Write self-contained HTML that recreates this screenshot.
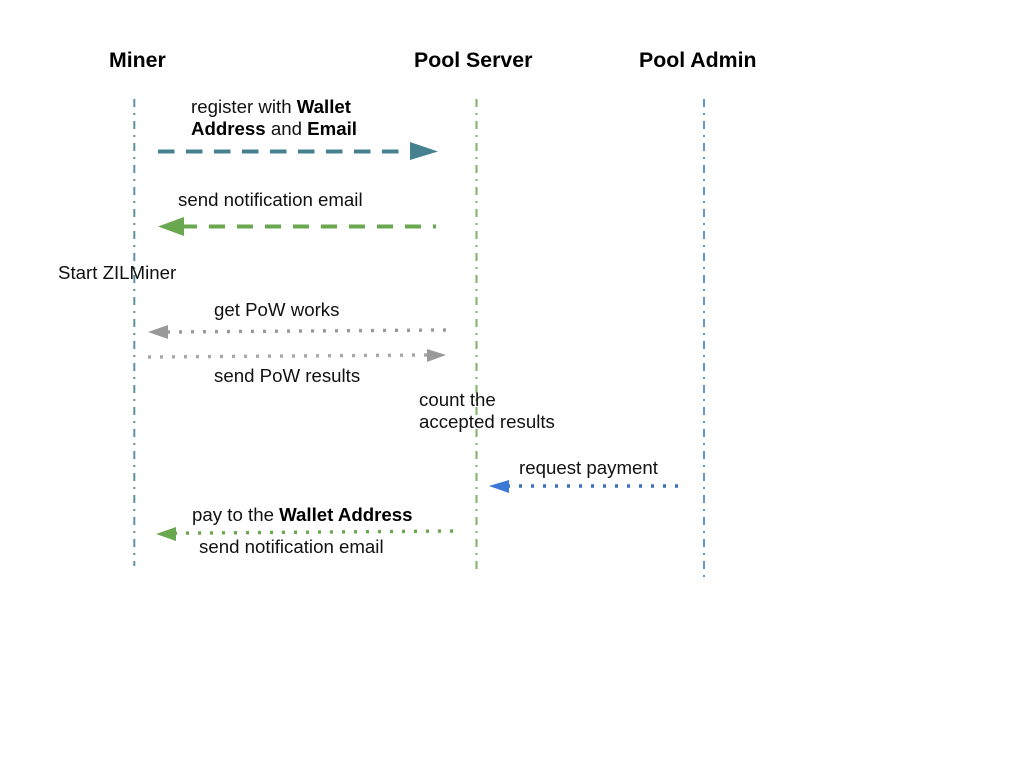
<!DOCTYPE html>
<html>
<head>
<meta charset="utf-8">
<style>
html,body{margin:0;padding:0;background:#fff;width:1024px;height:768px;overflow:hidden}
svg{display:block}
text{font-family:"Liberation Sans",Arial,sans-serif;font-size:18.67px;fill:#111}
.h{font-size:21.3px;font-weight:bold;fill:#000}
.b{font-weight:bold;fill:#000}
</style>
</head>
<body>
<svg width="1024" height="768" viewBox="0 0 1024 768" xmlns="http://www.w3.org/2000/svg">
<rect width="1024" height="768" fill="#fff"/>

<text class="h" x="109" y="67">Miner</text>
<text class="h" x="414" y="67">Pool Server</text>
<text class="h" x="639" y="67">Pool Admin</text>

<line x1="134.3" y1="99" x2="134.3" y2="566" stroke="#5f929e" stroke-width="2" stroke-dasharray="8 6 2 6"/>
<line x1="476.5" y1="99" x2="476.5" y2="570" stroke="#7fb068" stroke-width="2" stroke-dasharray="8 6 2 6"/>
<line x1="704" y1="99" x2="704" y2="578" stroke="#5b96cc" stroke-width="2" stroke-dasharray="8 6 2 6"/>

<text x="191" y="113">register with <tspan class="b">Wallet</tspan></text>
<text x="191" y="135"><tspan class="b">Address</tspan> and <tspan class="b">Email</tspan></text>
<line x1="158" y1="151.5" x2="410" y2="151.5" stroke="#45818e" stroke-width="4" stroke-dasharray="16.5 11.5"/>
<polygon points="410,142 438,151.5 410,160" fill="#45818e"/>

<text x="178" y="206">send notification email</text>
<line x1="183" y1="226.5" x2="436" y2="226.5" stroke="#6aa84f" stroke-width="4" stroke-dasharray="16 12" stroke-dashoffset="2"/>
<polygon points="158,226.5 184,217 184,236" fill="#6aa84f"/>

<text x="58" y="279">Start ZILMiner</text>

<text x="214" y="316">get PoW works</text>
<line x1="446" y1="330" x2="166" y2="332" stroke="#999" stroke-width="3.4" stroke-dasharray="3 9"/>
<polygon points="148,332 168,325 168,339" fill="#999"/>

<line x1="148" y1="357" x2="428" y2="355" stroke="#a8a8a8" stroke-width="3.4" stroke-dasharray="3 9"/>
<polygon points="446,355 427,349 427,362" fill="#999"/>
<text x="214" y="382">send PoW results</text>

<text x="419" y="406">count the</text>
<text x="419" y="428">accepted results</text>

<text x="519" y="474">request payment</text>
<line x1="678" y1="486" x2="507" y2="486" stroke="#3d6fc0" stroke-width="3.4" stroke-dasharray="3 9"/>
<polygon points="489,486 509,480 509,493" fill="#3c78d8"/>

<text x="192" y="521">pay to the <tspan class="b">Wallet Address</tspan></text>
<line x1="453" y1="531" x2="176" y2="533.2" stroke="#6aa84f" stroke-width="3.4" stroke-dasharray="3 9"/>
<polygon points="156,534 176,527 176,541" fill="#6aa84f"/>
<text x="199" y="553">send notification email</text>
</svg>
</body>
</html>
